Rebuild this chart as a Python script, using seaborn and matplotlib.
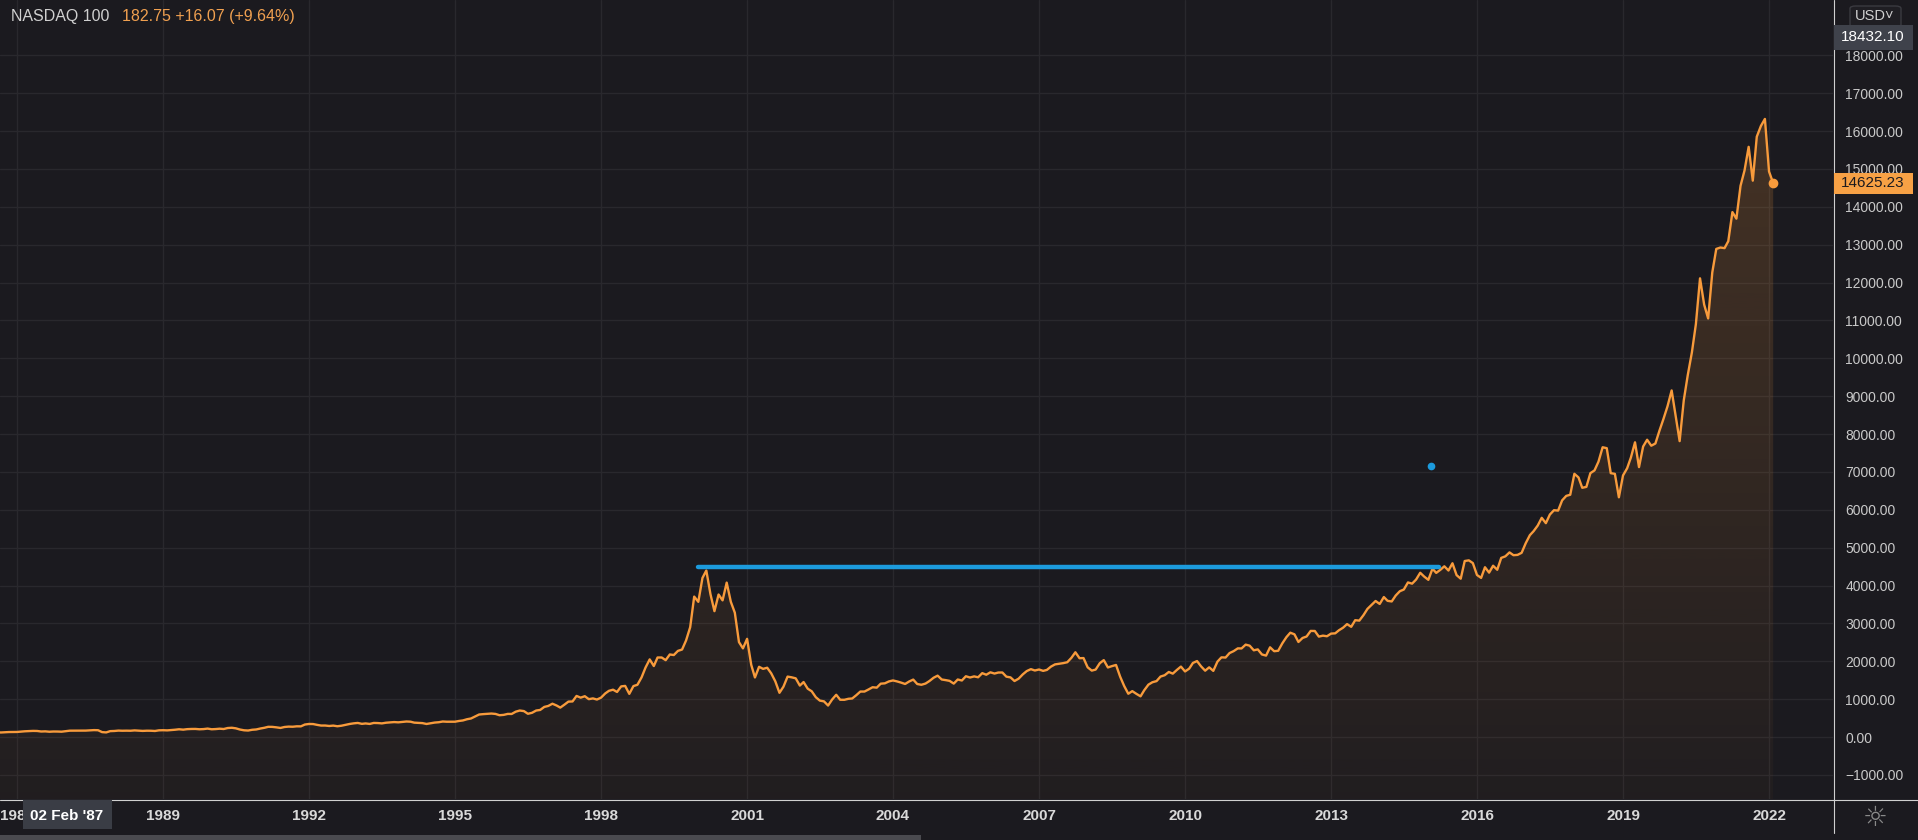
import numpy as np
import pandas as pd
import matplotlib
matplotlib.use("Agg")
import matplotlib.pyplot as plt
import matplotlib.dates as mdates
from matplotlib.colors import to_rgb
from matplotlib.patches import Rectangle, FancyBboxPatch
from matplotlib.lines import Line2D
import seaborn as sns

# NASDAQ 100 monthly closes (bar at first day of month)
closes_1985_1989 = [125, 128, 124, 123, 129, 131, 134, 130, 120, 125, 132, 132,
                    134, 143, 152, 156, 162, 160, 146, 150, 140, 146, 145, 141,
                    155, 168, 168, 167, 167, 170, 177, 183, 180, 130, 122, 156,
                    160, 170, 166, 168, 166, 175, 169, 162, 167, 166, 160, 177,
                    180, 176, 183, 193, 205, 195, 208, 213, 214, 205, 210, 223]
closes_1990_1994 = [205, 211, 220, 212, 238, 245, 230, 198, 178, 172, 192, 200,
                    225, 245, 270, 268, 256, 240, 265, 275, 272, 283, 282, 330,
                    345, 343, 322, 303, 304, 292, 302, 285, 299, 322, 345, 361,
                    372, 348, 359, 346, 372, 369, 360, 378, 388, 395, 388, 398,
                    410, 405, 380, 375, 368, 345, 363, 382, 391, 410, 404, 404]
closes_1995_1999 = [405, 425, 438, 470, 490, 545, 595, 605, 612, 620, 610, 576,
                    585, 611, 609, 670, 700, 685, 614, 640, 700, 715, 795, 821,
                    880, 833, 777, 855, 935, 940, 1085, 1040, 1078, 1000, 1020, 990,
                    1040, 1150, 1220, 1250, 1190, 1337, 1350, 1140, 1345, 1380, 1575, 1836,
                    2050, 1875, 2100, 2100, 2030, 2180, 2165, 2275, 2310, 2550, 2900, 3708]
closes_2000_2004 = [3570, 4200, 4397, 3774, 3324, 3763, 3609, 4077, 3570, 3283, 2507, 2341,
                    2593, 1908, 1573, 1855, 1800, 1830, 1683, 1469, 1168, 1330, 1596, 1577,
                    1550, 1359, 1452, 1277, 1208, 1051, 962, 942, 832, 990, 1116, 984,
                    983, 1010, 1018, 1106, 1201, 1201, 1255, 1315, 1304, 1409, 1418, 1468,
                    1494, 1468, 1438, 1401, 1466, 1517, 1400, 1380, 1412, 1480, 1566, 1621]
closes_2005_2009 = [1519, 1502, 1483, 1411, 1519, 1493, 1605, 1572, 1601, 1578, 1687, 1645,
                    1709, 1676, 1703, 1704, 1594, 1575, 1479, 1541, 1654, 1742, 1792, 1757,
                    1783, 1747, 1772, 1860, 1918, 1934, 1951, 1975, 2091, 2238, 2081, 2085,
                    1841, 1754, 1781, 1949, 2031, 1837, 1872, 1903, 1594, 1349, 1143, 1212,
                    1140, 1075, 1237, 1383, 1447, 1477, 1597, 1632, 1718, 1674, 1773, 1860]
closes_2010_2014 = [1732, 1806, 1956, 2006, 1867, 1752, 1840, 1747, 1990, 2104, 2099, 2217,
                    2269, 2341, 2339, 2440, 2412, 2290, 2314, 2180, 2150, 2369, 2266, 2278,
                    2474, 2638, 2755, 2712, 2510, 2616, 2654, 2802, 2800, 2652, 2677, 2661,
                    2731, 2738, 2819, 2887, 2982, 2910, 3085, 3074, 3218, 3384, 3488, 3592,
                    3514, 3696, 3596, 3580, 3736, 3850, 3895, 4082, 4050, 4158, 4337, 4236]
closes_2015_2019 = [4151, 4446, 4334, 4415, 4508, 4397, 4588, 4275, 4181, 4648, 4665, 4593,
                    4279, 4202, 4483, 4341, 4523, 4417, 4730, 4771, 4875, 4801, 4810, 4864,
                    5119, 5330, 5436, 5584, 5788, 5647, 5874, 5989, 5979, 6248, 6367, 6397,
                    6950, 6854, 6581, 6605, 6967, 7040, 7272, 7651, 7627, 6967, 6949, 6330,
                    6907, 7097, 7378, 7781, 7127, 7671, 7849, 7692, 7750, 8084, 8403, 8733]
closes_2020_2022 = [9151, 8462, 7813, 8890, 9556, 10157, 10905, 12111, 11418, 11052, 12268, 12888,
                    12925, 12909, 13091, 13860, 13687, 14554, 14960, 15583, 14690, 15851, 16135, 16320,
                    14931, 14625]

x_tick_years = [1986, 1989, 1992, 1995, 1998, 2001, 2004, 2007, 2010, 2013, 2016, 2019, 2022]
y_ticks = [-1000, 0, 1000, 2000, 3000, 4000, 5000, 6000, 7000, 8000, 9000,
           10000, 11000, 12000, 13000, 14000, 15000, 16000, 17000, 18000]

# horizontal drawing: dot-com top carried forward until it is broken
level_value = 4480
level_start, level_end = "2000-01-01", "2015-03-20"
marker_date, marker_value = "2015-01-20", 7166

closes = (closes_1985_1989 + closes_1990_1994 + closes_1995_1999 + closes_2000_2004
          + closes_2005_2009 + closes_2010_2014 + closes_2015_2019 + closes_2020_2022)
df = pd.DataFrame({"date": pd.date_range("1985-01-01", periods=len(closes), freq="MS"),
                   "close": closes})

BG = "#1b1a1f"
GRID = "#29282d"
ORANGE = "#f89b3c"
BLUE = "#1c9bdd"
TXT = "#c9c9c9"
W, H = 1918, 840

sns.set_theme(style="dark")
plt.rcParams["font.family"] = ["Liberation Sans", "DejaVu Sans"]

fig = plt.figure(figsize=(W / 100, H / 100), dpi=100, facecolor=BG)
ax = fig.add_axes([0, 41 / H, 1833 / W, 799 / H])
ax.set_facecolor(BG)

sns.lineplot(data=df, x="date", y="close", ax=ax, color=ORANGE, linewidth=1.7, zorder=4)

# gradient area under the line
xs = mdates.date2num(df["date"])
ymin, ymax = -1636, 19460
xlo, xhi = mdates.date2num(pd.Timestamp("1985-08-26")), mdates.date2num(pd.Timestamp("2023-04-26"))
top_val = max(closes)
grad = np.linspace(0, 1, 256)
rgba = np.zeros((256, 1, 4))
rgba[:, 0, :3] = to_rgb(ORANGE)
rgba[:, 0, 3] = 0.03 + 0.16 * grad
im = ax.imshow(rgba, extent=[xlo, xhi, ymin, top_val], origin="lower", aspect="auto", zorder=2)
poly = ax.fill_between(xs, df["close"], ymin, facecolor="none", edgecolor="none")
im.set_clip_path(poly.get_paths()[0], transform=ax.transData)

ax.plot(xs[-1], closes[-1], "o", color=ORANGE, markersize=6, zorder=5)

ax.plot([pd.Timestamp(level_start), pd.Timestamp(level_end)], [level_value, level_value],
        color=BLUE, linewidth=3.2, solid_capstyle="round", zorder=6)
ax.plot(pd.Timestamp(marker_date), marker_value, "o", color=BLUE, markersize=4.5, zorder=6)

ax.set_xlim(xlo, xhi)
ax.set_ylim(ymin, ymax)
ax.set_xlabel("")
ax.set_ylabel("")
for s in ax.spines.values():
    s.set_visible(False)

ax.set_xticks([mdates.date2num(pd.Timestamp(f"{y}-01-01")) for y in x_tick_years])
ax.set_xticklabels([str(y) for y in x_tick_years])
ax.tick_params(axis="x", length=0, pad=7, labelsize=11, labelcolor="#d9d9d9")
for lab in ax.get_xticklabels():
    lab.set_fontweight("bold")

ax.yaxis.tick_right()
ax.set_yticks(y_ticks)
ax.set_yticklabels([f"{v:.2f}".replace("-", "\u2212") for v in y_ticks])
ax.tick_params(axis="y", length=0, pad=9, labelsize=10, labelcolor=TXT)

ax.grid(True, color=GRID, linewidth=1)
ax.set_axisbelow(True)


def px_rect(x0, y0, x1, y1, color, z=10):
    fig.add_artist(Rectangle((x0 / W, 1 - y1 / H), (x1 - x0) / W, (y1 - y0) / H,
                             transform=fig.transFigure, facecolor=color, edgecolor="none", zorder=z))


def px_text(x, y, s, **kw):
    fig.text(x / W, 1 - y / H, s, **kw)


# separators of the price and time scales
fig.add_artist(Line2D([1833.5 / W, 1833.5 / W], [1 - 833 / H, 1], transform=fig.transFigure,
                      color="#d0d0d0", linewidth=0.8, zorder=9))
fig.add_artist(Line2D([0, 1], [1 - 799.5 / H, 1 - 799.5 / H], transform=fig.transFigure,
                      color="#d0d0d0", linewidth=0.8, zorder=9))

# legend / header
px_text(11, 17, "NASDAQ 100", color="#d0d0d0", fontsize=11.5, va="center", ha="left")
px_text(122, 17, "182.75 +16.07 (+9.64%)", color="#f0a050", fontsize=11.5, va="center", ha="left")

# currency button
fig.add_artist(FancyBboxPatch((1850 / W, 1 - 27 / H), 51 / W, 21 / H,
                              boxstyle="round,pad=0,rounding_size=0.003",
                              transform=fig.transFigure, facecolor="#1f1e23",
                              edgecolor="#3a3a40", linewidth=1, zorder=10))
px_text(1875, 16, "USD\u02c5", color="#d0d0d0", fontsize=10.5, va="center", ha="center", zorder=11)

# crosshair price label and last price label
px_rect(1834, 25, 1913, 50, "#3f424b")
px_text(1873, 37, "18432.10", color="white", fontsize=11, va="center", ha="center", zorder=11)
px_rect(1834, 173, 1913, 194, "#f7a145")
px_text(1873, 183, "14625.23", color="#1b1a1f", fontsize=11, va="center", ha="center", zorder=11)

# crosshair date label
px_rect(23, 800, 112, 829, "#3a3d45")
px_text(67, 816, "02 Feb '87", color="white", fontsize=11, fontweight="bold",
        va="center", ha="center", zorder=11)

# settings icon
px_text(1875, 818, "\u263c", color="#8a8a8a", fontsize=20, va="center", ha="center",
        family=["DejaVu Sans"], zorder=11)

# scrollbar strip at the very bottom
px_rect(0, 835, 921, 840, "#4a4a4f", z=8)

fig.savefig("out.png", dpi=100, facecolor=BG)
